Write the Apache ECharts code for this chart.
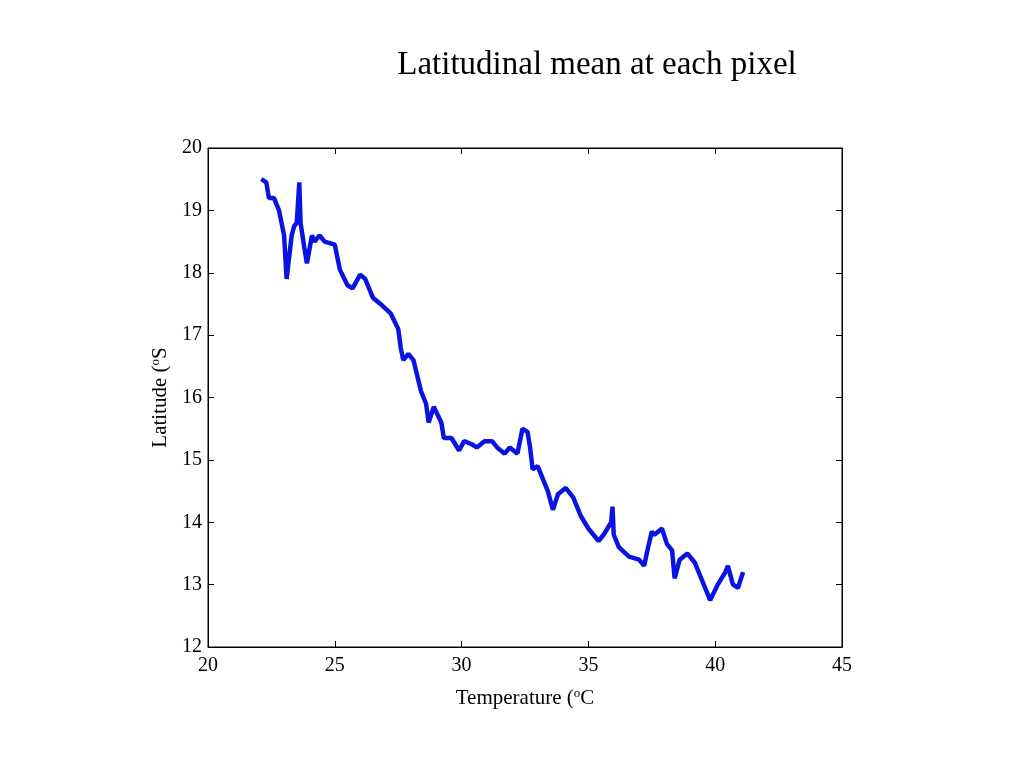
<!DOCTYPE html>
<html>
<head>
<meta charset="utf-8">
<script src="https://cdn.jsdelivr.net/npm/echarts@6/dist/echarts.min.js"></script>
<style>
html, body { margin: 0; padding: 0; background: #fff; }
#chart { width: 1024px; height: 768px; }
</style>
</head>
<body>
<div id="chart"></div>
<script>
// 温度 (x) 与 纬度 (y)
var temps = [22.1,22.3,22.4,22.6,22.8,23.0,23.1,23.3,23.4,23.5,23.6,23.65,23.8,23.9,24.1,24.2,24.4,24.6,25.0,25.2,25.5,25.7,26.0,26.2,26.5,26.8,27.2,27.5,27.6,27.7,27.9,28.1,28.4,28.6,28.7,28.9,29.2,29.3,29.6,29.9,30.1,30.4,30.6,30.9,31.2,31.4,31.7,31.9,32.2,32.4,32.6,32.7,32.8,33.0,33.2,33.4,33.6,33.8,34.1,34.4,34.7,35.0,35.2,35.4,35.6,35.9,35.95,36.0,36.2,36.6,37.0,37.2,37.3,37.5,37.6,37.9,38.1,38.3,38.4,38.6,38.9,39.2,39.5,39.8,40.1,40.4,40.5,40.7,40.9,41.1];
var lats = [19.5,19.45,19.2,19.2,19.0,18.6,17.9,18.6,18.75,18.8,19.45,18.8,18.4,18.15,18.6,18.5,18.6,18.5,18.45,18.05,17.8,17.75,17.97,17.9,17.6,17.5,17.35,17.1,16.8,16.6,16.7,16.6,16.1,15.9,15.6,15.85,15.6,15.35,15.35,15.15,15.3,15.25,15.2,15.3,15.3,15.2,15.1,15.2,15.1,15.5,15.45,15.2,14.85,14.9,14.7,14.5,14.2,14.45,14.55,14.4,14.1,13.9,13.8,13.7,13.8,14.0,14.25,13.8,13.6,13.45,13.4,13.3,13.5,13.85,13.8,13.9,13.65,13.55,13.1,13.4,13.5,13.35,13.05,12.75,13.0,13.2,13.3,13.0,12.95,13.2];

var pts = temps.map(function (t, i) { return [t, lats[i]]; });
var font = 'Liberation Serif';
var nameStyle = {
    fontFamily: font, fontSize: 21, color: '#000',
    rich: { sup: { fontFamily: font, fontSize: 13, verticalAlign: 'top', padding: [0, 0, 10, 0], color: '#000' } }
};
function axisCommon(pos, margin) {
    return {
        position: pos,
        axisLine: { lineStyle: { color: '#000', width: 1 } },
        axisTick: { inside: true, length: 6, lineStyle: { color: '#000' } },
        axisLabel: { color: '#000', fontFamily: font, fontSize: 20, margin: margin },
        splitLine: { show: false }
    };
}

var chart = echarts.init(document.getElementById('chart'));
chart.setOption({
    animation: false,
    title: {
        text: 'Latitudinal mean at each pixel',
        left: 592, top: 44, textAlign: 'center',
        textStyle: { fontFamily: font, fontSize: 33, fontWeight: 'normal', color: '#000' }
    },
    grid: { left: 208, right: 182, top: 148, bottom: 121, show: true, borderColor: '#000', borderWidth: 1 },
    xAxis: [
        Object.assign({
            type: 'value', min: 20, max: 45, interval: 5,
            name: 'Temperature ({sup|o}C', nameLocation: 'middle', nameGap: 40,
            nameTextStyle: nameStyle
        }, axisCommon('bottom', 9)),
        Object.assign({ type: 'value', min: 20, max: 45, interval: 5 }, axisCommon('top', 6), { axisLabel: { show: false } })
    ],
    yAxis: [
        Object.assign({
            type: 'value', min: 12, max: 20, interval: 1,
            name: 'Latitude ({sup|o}S', nameLocation: 'middle', nameGap: 32,
            nameTextStyle: nameStyle
        }, axisCommon('left', 6)),
        Object.assign({ type: 'value', min: 12, max: 20, interval: 1 }, axisCommon('right', 6), { axisLabel: { show: false } })
    ],
    series: [{
        type: 'line', data: pts, showSymbol: false,
        lineStyle: { color: '#0a14e0', width: 4.5 }
    }]
});
</script>
</body>
</html>
